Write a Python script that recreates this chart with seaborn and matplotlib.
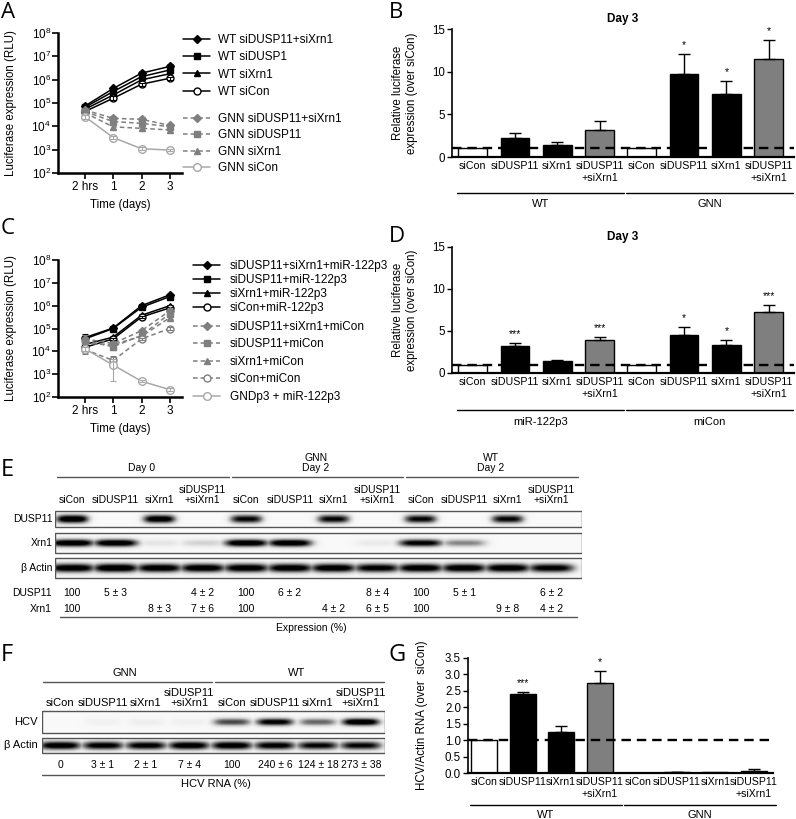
import numpy as np
import pandas as pd
import matplotlib
matplotlib.use("Agg")
import matplotlib.pyplot as plt
import matplotlib.transforms as mtransforms
import seaborn as sns
from matplotlib.lines import Line2D
from matplotlib.patches import Rectangle
from matplotlib import font_manager
from matplotlib.ticker import FormatStrFormatter

# --- DATA ---
time_x = [0, 1, 2, 3]
time_labels = ["2 hrs", "1", "2", "3"]

# panel A (RLU)
a_names = ["WT siDUSP11+siXrn1", "WT siDUSP1", "WT siXrn1", "WT siCon",
           "GNN siDUSP11+siXrn1", "GNN siDUSP11", "GNN siXrn1", "GNN siCon"]
a_wt_combo = [7.4e4, 4.2e5, 1.9e6, 3.7e6]
a_wt_dusp = [6.5e4, 3.1e5, 1.35e6, 2.6e6]
a_wt_xrn = [5.4e4, 2.2e5, 9.8e5, 1.8e6]
a_wt_con = [4.3e4, 1.6e5, 6.4e5, 1.15e6]
a_gnn_combo = [5.0e4, 2.2e4, 2.0e4, 1.1e4]
a_gnn_dusp = [4.3e4, 1.6e4, 1.35e4, 9.6e3]
a_gnn_xrn = [3.8e4, 9.5e3, 8.2e3, 7.0e3]
a_gnn_con = [2.6e4, 3.3e3, 1.1e3, 9.6e2]
a_err = [[1.5e4, 8e4, 4e5, 1.1e6], [1.2e4, 6e4, 3e5, 7e5], [1e4, 4e4, 2e5, 4e5],
         [8e3, 3e4, 1e5, 2e5], [1e4, 5e3, 4e3, 2e3], [8e3, 3e3, 2e3, 1.5e3],
         [7e3, 2e3, 1.5e3, 1.2e3], [5e3, 5e2, 1.5e2, 1e2]]

# panel C (RLU)
c_names = ["siDUSP11+siXrn1+miR-122p3", "siDUSP11+miR-122p3", "siXrn1+miR-122p3",
           "siCon+miR-122p3", "siDUSP11+siXrn1+miCon", "siDUSP11+miCon",
           "siXrn1+miCon", "siCon+miCon", "GNDp3 + miR-122p3"]
c_combo_mir = [4.0e4, 1.05e5, 1.0e6, 3.0e6]
c_dusp_mir = [3.5e4, 1.0e5, 8.5e5, 2.5e6]
c_xrn_mir = [2.0e4, 4.2e4, 3.8e5, 1.0e6]
c_con_mir = [1.5e4, 3.5e4, 3.2e5, 8.0e5]
c_combo_mic = [3.5e4, 2.2e4, 8.0e4, 6.0e5]
c_dusp_mic = [2.8e4, 1.6e4, 5.0e4, 4.5e5]
c_xrn_mic = [2.2e4, 2.0e4, 4.5e4, 3.0e5]
c_con_mic = [1.2e4, 4.0e3, 3.5e4, 1.0e5]
c_gndp3 = [1.3e4, 2.5e3, 4.9e2, 2.1e2]
c_err = [[1.5e4, 1e4, 1e5, 3e5], [1.2e4, 1e4, 8e4, 2.5e5], [8e3, 5e3, 4e4, 1e5],
         [6e3, 4e3, 3e4, 8e4], [1.5e4, 5e3, 2e4, 1e5], [1e4, 4e3, 1e4, 8e4],
         [8e3, 4e3, 1e4, 5e4], [4e3, 2e3, 5e3, 1.5e4], [3e3, 2e3, 5e1, 3e1]]

# bar panels
bar_labels = ["siCon", "siDUSP11", "siXrn1", "siDUSP11\n+siXrn1"] * 2
b_groups = ["WT", "GNN"]
b_vals = [1.0, 2.2, 1.4, 3.2, 1.0, 9.7, 7.4, 11.5]
b_err = [0, 0.6, 0.3, 1.0, 0, 2.4, 1.5, 2.2]
b_stars = ["", "", "", "", "", "*", "*", "*"]

d_groups = ["miR-122p3", "miCon"]
d_vals = [1.0, 3.2, 1.4, 3.9, 1.0, 4.5, 3.3, 7.3]
d_err = [0, 0.4, 0.12, 0.35, 0, 1.0, 0.65, 0.8]
d_stars = ["", "***", "", "***", "", "*", "*", "***"]

g_groups = ["WT", "GNN"]
g_vals = [1.0, 2.40, 1.25, 2.73, 0.01, 0.03, 0.02, 0.07]
g_err = [0, 0.06, 0.17, 0.38, 0, 0.005, 0, 0.04]
g_stars = ["", "***", "", "*", "", "", "", ""]

# blots (band intensity per lane, 0-1)
lane_names = ["siCon", "siDUSP11", "siXrn1", "siDUSP11\n+siXrn1"]
e_headers = ["Day 0", "GNN\nDay 2", "WT\nDay 2"]
e_dusp11_band = [1.0, 0, 0.95, 0, 0.85, 0, 0.85, 0, 0.85, 0, 0.85, 0]
e_xrn1_band = [1.0, 1.0, 0.12, 0.2, 1.0, 1.0, 0, 0.1, 0.9, 0.45, 0, 0]
e_actin_band = [0.95, 1.0, 0.95, 0.95, 0.95, 0.95, 0.95, 0.9, 0.95, 0.95, 0.95, 0.9]
e_dusp11_pct = ["100", "5 ± 3", "", "4 ± 2", "100", "6 ± 2", "", "8 ± 4",
                "100", "5 ± 1", "", "6 ± 2"]
e_xrn1_pct = ["100", "", "8 ± 3", "7 ± 6", "100", "", "4 ± 2", "6 ± 5",
              "100", "", "9 ± 8", "4 ± 2"]

f_headers = ["GNN", "WT"]
f_hcv_band = [0.0, 0.06, 0.08, 0.07, 0.65, 0.9, 0.55, 1.0]
f_actin_band = [0.95, 0.9, 0.9, 0.95, 0.95, 0.9, 0.85, 0.85]
f_hcv_pct = ["0", "3 ± 1", "2 ± 1", "7 ± 4", "100", "240 ± 6", "124 ± 18", "273 ± 38"]

# --- STYLE ---
sns.set_theme(style="ticks")
plt.rcParams["font.family"] = ["Liberation Sans", "DejaVu Sans"]
plt.rcParams.update({
    "mathtext.fontset": "custom", "mathtext.rm": "Liberation Sans",
    "mathtext.default": "regular", "axes.edgecolor": "black",
    "text.color": "black", "axes.labelcolor": "black",
    "xtick.color": "black", "ytick.color": "black",
})
names = {f.name for f in font_manager.fontManager.ttflist}
NARROW = "Liberation Sans Narrow" if "Liberation Sans Narrow" in names else "Liberation Sans"
E_FS = 9 if NARROW != "Liberation Sans" else 7.5

W, H = 796, 819
fig = plt.figure(figsize=(W / 100, H / 100), dpi=100)


def rect(l, t, r, b):
    return [l / W, 1 - b / H, (r - l) / W, (b - t) / H]


def fy(y):
    return 1 - y / H


BLACK, GRAY, LGRAY = "black", "#7f7f7f", "#a8a8a8"
DASH = (0, (3, 2))


def time_course(ax, series, errs, styles):
    for vals, err, (c, m, ms, fc, ls) in zip(series, errs, styles):
        sns.lineplot(x=time_x, y=vals, ax=ax, color=c, marker=m, markersize=ms,
                     markerfacecolor=fc, markeredgecolor=c, markeredgewidth=1,
                     linestyle=ls, linewidth=1.1, errorbar=None)
        ax.errorbar(time_x, vals, yerr=err, fmt="none", ecolor=c,
                    elinewidth=0.8, capsize=2.5, capthick=0.8)
    ax.set_yscale("log")
    ax.set_ylim(1e2, 1e8)
    ax.set_yticks([10.0 ** k for k in range(2, 9)])
    ax.set_xlim(-0.95, 3.43)
    ax.set_xticks(time_x)
    ax.set_xticklabels(time_labels, fontsize=8.5)
    ax.tick_params(axis="y", labelsize=8.5, width=1.2, length=4, pad=1)
    ax.tick_params(axis="y", which="minor", length=2, width=0.8)
    ax.tick_params(axis="x", width=1.2, length=4, pad=2)
    ax.set_xlabel("Time (days)", fontsize=8.3, labelpad=4)
    ax.set_ylabel("Luciferase expression (RLU)", fontsize=8.3)
    ax.yaxis.set_label_coords(-0.33, 0.5)
    for s in ("left", "bottom"):
        ax.spines[s].set_linewidth(1.8)
    sns.despine(ax=ax)


def legend_handles(styles):
    return [Line2D([], [], color=c, marker=m, markersize=ms, markerfacecolor=fc,
                   markeredgecolor=c, linestyle=ls, linewidth=1.1) for c, m, ms, fc, ls in styles]


def add_legend(handles, labels, x, top, spacing, tpad):
    fig.legend(handles, labels, loc="upper left", bbox_to_anchor=(x / W, fy(top)),
               frameon=False, fontsize=8.5, handlelength=2.3, handletextpad=tpad,
               labelspacing=spacing, borderpad=0, borderaxespad=0)


a_styles = [(BLACK, "D", 4.5, BLACK, "-"), (BLACK, "s", 4.5, BLACK, "-"),
            (BLACK, "^", 5, BLACK, "-"), (BLACK, "o", 5, "white", "-"),
            (GRAY, "D", 4.5, GRAY, DASH), (GRAY, "s", 4.5, GRAY, DASH),
            (GRAY, "^", 5, GRAY, DASH), (LGRAY, "o", 5.5, "white", "-")]
c_styles = a_styles[:7] + [(GRAY, "o", 5, "white", DASH), (LGRAY, "o", 5.5, "white", "-")]

# ---- A ----
axA = fig.add_axes(rect(58, 33, 182, 173))
a_series = [a_wt_combo, a_wt_dusp, a_wt_xrn, a_wt_con,
            a_gnn_combo, a_gnn_dusp, a_gnn_xrn, a_gnn_con]
time_course(axA, a_series, a_err, a_styles)
hA = legend_handles(a_styles)
add_legend(hA[:4], a_names[:4], 183, 34, 0.45, 0.7)
add_legend(hA[4:], a_names[4:], 183, 113, 0.37, 0.7)

# ---- C ----
axC = fig.add_axes(rect(58, 260, 182, 397))
c_series = [c_combo_mir, c_dusp_mir, c_xrn_mir, c_con_mir,
            c_combo_mic, c_dusp_mic, c_xrn_mic, c_con_mic, c_gndp3]
time_course(axC, c_series, c_err, c_styles)
hC = legend_handles(c_styles)
add_legend(hC[:4], c_names[:4], 193, 260, 0.18, 0.8)
add_legend(hC[4:], c_names[4:], 193, 321, 0.46, 0.8)


# ---- bar panels ----
bar_colors = ["white", BLACK, BLACK, GRAY] * 2


def bar_panel(ax, vals, errs, stars, groups, ylim, yticks, fmt, ylabel,
              label_x, line_y, group_y, xlim, xfs, yfs, title=None):
    df = pd.DataFrame({"cond": [f"c{i}" for i in range(len(vals))], "val": vals})
    sns.barplot(data=df, x="cond", y="val", hue="cond", palette=bar_colors,
                width=0.68, edgecolor="black", linewidth=1, saturation=1,
                legend=False, errorbar=None, ax=ax)
    idx = [i for i, e in enumerate(errs) if e > 0]
    ax.errorbar(idx, [vals[i] for i in idx], yerr=[[0] * len(idx), [errs[i] for i in idx]],
                fmt="none", ecolor="black", elinewidth=1, capsize=4.5, capthick=1)
    ax.axhline(1, color="black", lw=1.7, ls=(0, (4, 2.5)), zorder=5)
    for i, s in enumerate(stars):
        if s:
            ax.annotate(s, (i, vals[i] + errs[i]), xytext=(0, 3), textcoords="offset points",
                        ha="center", va="bottom", fontsize=7.5)
    ax.set_xlim(*xlim)
    ax.set_ylim(*ylim)
    ax.set_yticks(yticks)
    ax.yaxis.set_major_formatter(FormatStrFormatter(fmt))
    ax.set_xticks(range(len(vals)))
    ax.set_xticklabels(bar_labels, fontsize=xfs, linespacing=1.25)
    ax.tick_params(axis="x", length=0, pad=3)
    ax.tick_params(axis="y", labelsize=yfs, width=1, length=3.5, pad=1.5)
    ax.set_xlabel("")
    ax.set_ylabel(ylabel, fontsize=8.3, linespacing=1.15)
    ax.yaxis.set_label_coords(label_x, 0.5)
    ax.spines["left"].set_linewidth(1.2)
    ax.spines["bottom"].set_linewidth(1.6)
    sns.despine(ax=ax)
    if title:
        ax.set_title(title, fontsize=8.5, fontweight="bold", pad=5)
    blend = mtransforms.blended_transform_factory(ax.transData, fig.transFigure)
    for g, name in enumerate(groups):
        ax.plot([4 * g - 0.37, 4 * g + 3.57], [fy(line_y)] * 2, color="black", lw=1,
                transform=blend, clip_on=False)
        ax.text(4 * g + 1.6, fy(group_y), name, transform=blend, ha="center",
                va="center", fontsize=8)


axB = fig.add_axes(rect(452, 29, 794, 157))
bar_panel(axB, b_vals, b_err, b_stars, b_groups, (0, 15), [0, 5, 10, 15], "%d",
          "Relative luciferase\nexpression (over siCon)", -0.1, 193, 204,
          (-0.49, 7.6), 7.7, 8.3, title="Day 3")

axD = fig.add_axes(rect(452, 247, 794, 373))
bar_panel(axD, d_vals, d_err, d_stars, d_groups, (0, 15), [0, 5, 10, 15], "%d",
          "Relative luciferase\nexpression (over siCon)", -0.1, 410, 422,
          (-0.49, 7.6), 7.7, 8.3, title="Day 3")

axG = fig.add_axes(rect(468, 658, 773, 773))
bar_panel(axG, g_vals, g_err, g_stars, g_groups, (0, 3.5),
          [0, 0.5, 1.0, 1.5, 2.0, 2.5, 3.0, 3.5], "%.1f",
          "HCV/Actin RNA (over  siCon)", -0.13, 805, 815, (-0.42, 7.5), 7.6, 8.3)


# ---- blots ----
def draw_blot(ax, bands, y_top, y_bot, half_w, thick, xlim):
    x0, x1 = xlim
    xs = np.linspace(x0, x1, 800)
    ys = np.linspace(0, 1, 40)
    img = np.zeros((len(ys), len(xs)))
    py = np.exp(-((ys - 0.5) / thick) ** 2)
    for i, v in enumerate(bands):
        px = np.exp(-np.abs((xs - i) / half_w) ** 4)
        img = np.maximum(img, v * np.outer(py, px))
    img = np.clip(0.05 + 1.15 * img, 0, 1)
    ax.imshow(img, extent=(x0, x1, y_bot, y_top), aspect="auto", cmap="Greys",
              vmin=0, vmax=1, interpolation="bilinear")
    ax.add_patch(Rectangle((x0, y_top), x1 - x0, y_bot - y_top, fill=False,
                           edgecolor="#555555", lw=1))


# E
axE = fig.add_axes(rect(55, 450, 582, 635))
e_xlim = (-0.39, 11.70)
ef = dict(family=[NARROW, "DejaVu Sans"], fontsize=E_FS)
for g, hd in enumerate(e_headers):
    axE.text(4 * g + 1.6, 473, hd, ha="center", va="bottom", linespacing=1.05, **ef)
    axE.plot([4 * g - 0.34, 4 * g + 3.6], [477, 477], color="#555555", lw=1)
    for j, ln in enumerate(lane_names):
        axE.text(4 * g + j, 505, ln, ha="center", va="bottom", linespacing=1.0, **ef)
draw_blot(axE, e_dusp11_band, 511, 527, 0.38, 0.28, e_xlim)
draw_blot(axE, e_xrn1_band, 533, 553, 0.52, 0.2, e_xlim)
draw_blot(axE, e_actin_band, 558, 578, 0.55, 0.24, e_xlim)
for y, lab in [(519, "DUSP11"), (543, "Xrn1"), (568, "β Actin")]:
    axE.text(-0.44, y, lab, ha="right", va="center", **ef)
for y, lab, row in [(593, "DUSP11", e_dusp11_pct), (609, "Xrn1", e_xrn1_pct)]:
    axE.text(-0.46, y, lab, ha="right", va="center", **ef)
    for i, t in enumerate(row):
        axE.text(i, y, t, ha="center", va="center", **ef)
axE.plot([-0.28, 11.58], [617, 617], color="#555555", lw=1)
axE.text(5.5, 628, "Expression (%)", ha="center", va="center", **ef)
axE.set_xlim(*e_xlim)
axE.set_ylim(635, 450)
axE.axis("off")

# F
axF = fig.add_axes(rect(42, 665, 385, 790))
f_xlim = (-0.42, 7.56)
ff = dict(fontsize=8)
for g, hd in enumerate(f_headers):
    axF.text(4 * g + 1.5, 673, hd, ha="center", va="center", **ff)
    axF.plot([4 * g - 0.4, 4 * g + 3.53], [682, 682], color="#555555", lw=1)
    for j, ln in enumerate(lane_names):
        axF.text(4 * g + j, 708, ln, ha="center", va="bottom", linespacing=1.05, **ff)
draw_blot(axF, f_hcv_band, 711, 733, 0.45, 0.18, f_xlim)
draw_blot(axF, f_actin_band, 738, 753, 0.5, 0.3, f_xlim)
axF.text(-0.53, 722, "HCV", ha="right", va="center", **ff)
axF.text(-0.53, 745, "β Actin", ha="right", va="center", **ff)
for i, t in enumerate(f_hcv_pct):
    axF.text(i, 765, t, ha="center", va="center", fontsize=7.5)
axF.plot([-0.42, 7.56], [775, 775], color="#555555", lw=1)
axF.text(3.63, 784, "HCV RNA (%)", ha="center", va="center", **ff)
axF.set_xlim(*f_xlim)
axF.set_ylim(790, 665)
axF.axis("off")

# panel letters
for lab, x, y, fs in [("A", 1, 13, 16), ("B", 389, 13, 16), ("C", 1, 229, 16),
                      ("D", 389, 236, 16), ("E", 1, 470, 17), ("F", 1, 655, 17),
                      ("G", 389, 655, 17)]:
    fig.text(x / W, fy(y), lab, fontsize=fs, ha="left", va="center",
             family=["Open Sans", "DejaVu Sans"])

fig.savefig("out.png", dpi=100)
